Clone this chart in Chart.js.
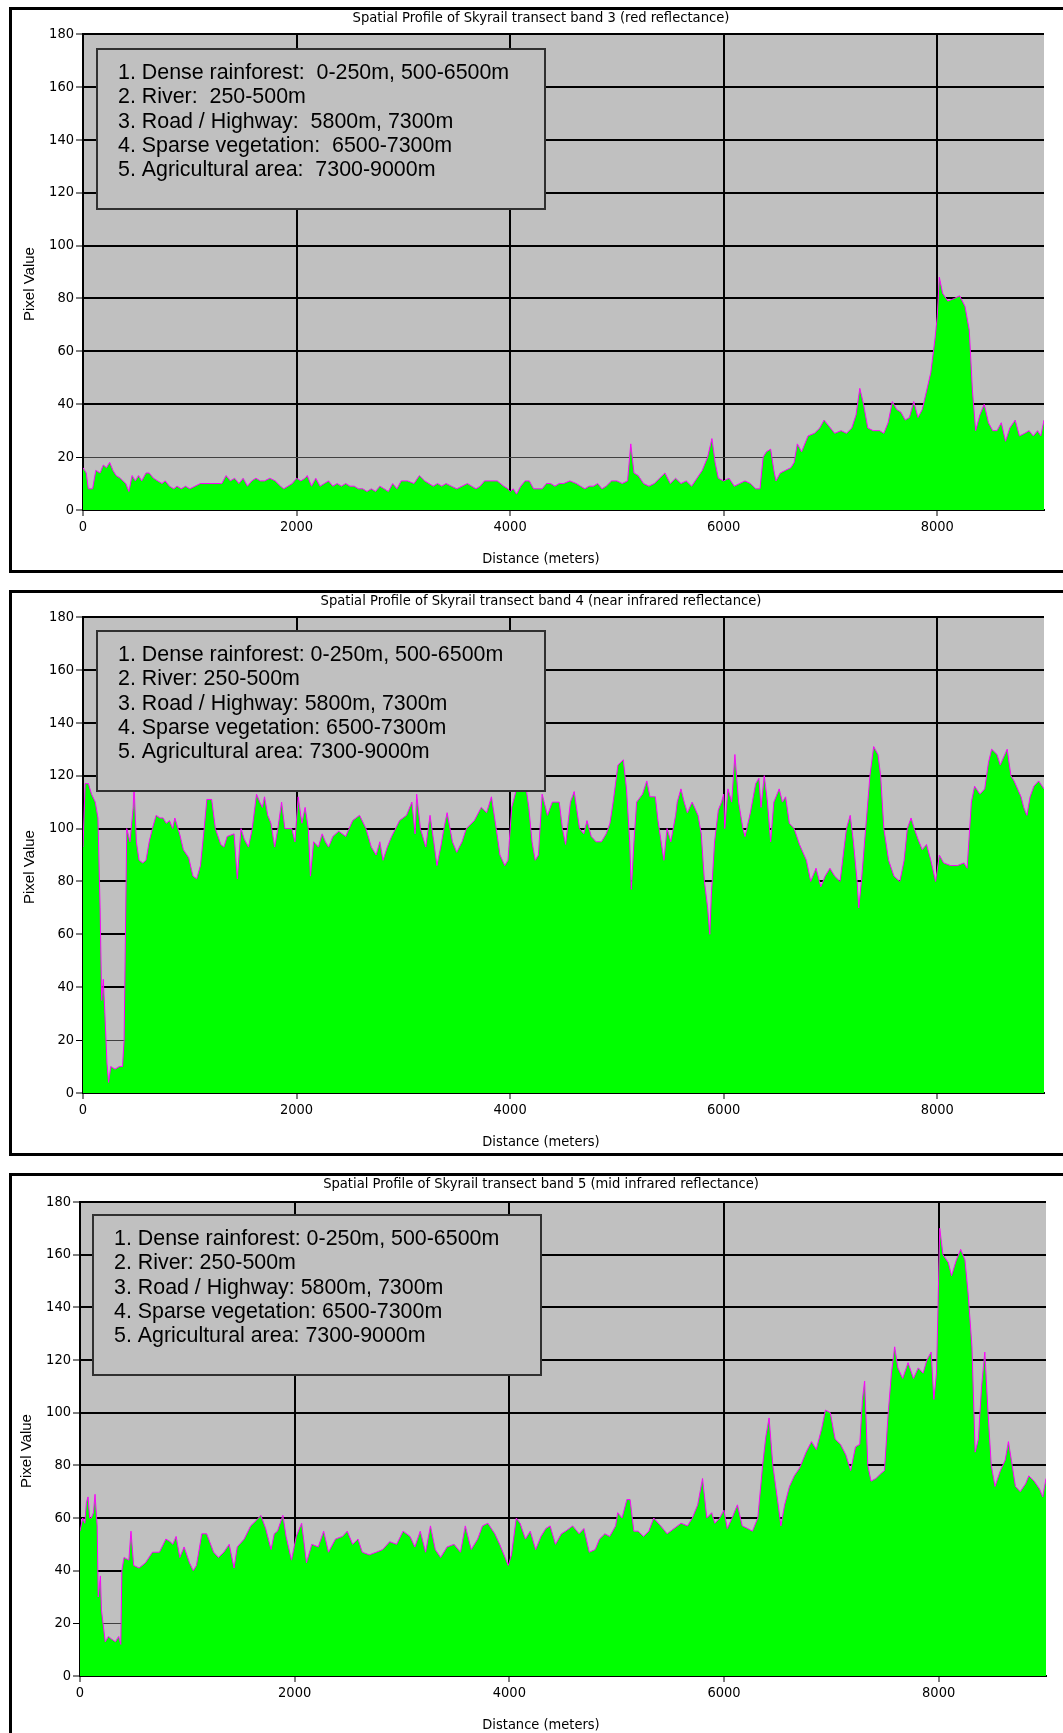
<!DOCTYPE html>
<html>
<head>
<meta charset="utf-8">
<title>Spatial Profile of Skyrail transect</title>
<script src="https://cdn.jsdelivr.net/npm/chart.js@4.4.1/dist/chart.umd.min.js"></script>
<style>
    html, body { margin: 0; padding: 0; background: #fff; overflow: hidden; width: 1063px; height: 1733px; }
    .panel { position: absolute; left: 9px; width: 1064px; height: 566px; border: 3px solid #000; box-sizing: border-box; background: #fff; }
    .panel canvas { display: block; }
</style>
</head>
<body>
<div class="panel" style="top:7px"><canvas id="band3Chart" width="1058" height="560"></canvas></div>
<div class="panel" style="top:590px"><canvas id="band4Chart" width="1058" height="560"></canvas></div>
<div class="panel" style="top:1173px"><canvas id="band5Chart" width="1058" height="560"></canvas></div>
<script>
// Profile data: [distance (m), pixel value]
const band3 = [
    [0,16],[30,14],[50,8],[90,8],[120,15],[160,14],[190,17],[220,16],[250,18],[280,15],
    [310,13],[350,12],[400,10],[430,7],[460,13],[490,11],[520,13],[550,11],[590,14],[620,14],
    [660,12],[700,11],[740,10],[770,11],[810,9],[850,8],[880,9],[920,8],[960,9],[1000,8],
    [1050,9],[1100,10],[1200,10],[1300,10],[1340,13],[1380,11],[1420,12],[1460,10],[1500,12],[1540,9],
    [1580,11],[1620,12],[1660,11],[1700,11],[1750,12],[1800,11],[1850,9],[1880,8],[1920,9],[1960,10],
    [2000,12],[2040,11],[2080,12],[2100,13],[2140,9],[2180,12],[2220,9],[2260,10],[2300,11],[2340,9],
    [2380,10],[2420,9],[2460,10],[2500,9],[2540,9],[2580,8],[2620,8],[2660,7],[2700,8],[2740,7],
    [2780,9],[2820,8],[2860,7],[2900,10],[2940,8],[2980,11],[3040,11],[3100,10],[3150,13],[3200,11],
    [3240,10],[3280,9],[3320,10],[3360,9],[3400,10],[3450,9],[3500,8],[3550,9],[3600,10],[3640,9],
    [3680,8],[3720,9],[3760,11],[3820,11],[3880,11],[3940,9],[3980,8],[4000,7],[4030,8],[4060,6],
    [4100,9],[4140,11],[4180,11],[4220,8],[4260,8],[4300,8],[4340,10],[4380,10],[4420,9],[4460,10],
    [4500,10],[4560,11],[4620,10],[4660,9],[4700,8],[4740,9],[4780,9],[4820,10],[4860,8],[4900,9],
    [4950,11],[5000,11],[5050,10],[5100,11],[5130,25],[5160,14],[5200,13],[5250,10],[5300,9],[5350,10],
    [5400,12],[5450,14],[5500,10],[5550,12],[5600,10],[5650,11],[5700,9],[5750,12],[5800,15],[5850,20],
    [5890,27],[5920,18],[5950,12],[6000,11],[6050,12],[6100,9],[6150,10],[6200,11],[6250,10],[6300,8],
    [6340,8],[6370,20],[6400,22],[6440,23],[6470,15],[6490,11],[6530,14],[6580,15],[6630,16],[6660,18],
    [6690,25],[6730,22],[6790,28],[6850,29],[6900,31],[6940,34],[6980,32],[7040,29],[7100,30],[7150,29],
    [7200,31],[7240,36],[7275,46],[7310,40],[7350,31],[7400,30],[7460,30],[7500,29],[7540,33],[7580,41],
    [7620,38],[7660,37],[7700,34],[7740,35],[7780,41],[7820,35],[7860,38],[7900,45],[7940,52],[7980,65],
    [8000,73],[8020,88],[8050,82],[8100,79],[8160,80],[8210,81],[8260,77],[8300,68],[8330,45],[8360,30],
    [8400,36],[8440,40],[8480,33],[8520,30],[8560,30],[8600,33],[8640,26],[8680,31],[8730,34],[8770,28],
    [8820,29],[8860,30],[8900,28],[8940,30],[8970,28],[9000,34]
];

const band4 = [
    [0,93],[20,117],[50,117],[80,113],[115,110],[140,104],[160,70],[175,35],[190,43],[205,30],
    [225,11],[240,4],[260,10],[300,9],[340,10],[370,10],[385,20],[410,100],[440,95],[470,108],
    [478,116],[500,95],[525,88],[560,87],[590,88],[620,95],[650,100],[685,105],[720,104],[750,104],
    [780,102],[810,103],[840,100],[860,104],[905,98],[940,92],[990,89],[1030,82],[1065,81],[1100,86],
    [1130,98],[1160,111],[1205,111],[1240,100],[1290,94],[1320,93],[1350,97],[1415,98],[1445,81],[1480,100],
    [1510,96],[1550,93],[1585,100],[1625,113],[1655,110],[1680,108],[1700,112],[1730,105],[1760,102],[1795,93],
    [1825,100],[1860,110],[1890,100],[1955,100],[1985,95],[2015,112],[2050,102],[2080,108],[2110,100],[2130,82],
    [2160,95],[2205,93],[2240,98],[2270,95],[2300,93],[2340,97],[2395,99],[2460,97],[2525,103],[2590,105],
    [2650,100],[2700,93],[2745,90],[2780,95],[2810,88],[2850,93],[2890,97],[2965,103],[3030,105],[3080,110],
    [3110,98],[3125,113],[3160,100],[3210,93],[3250,105],[3285,95],[3315,86],[3350,93],[3380,100],[3410,106],
    [3460,95],[3500,91],[3550,95],[3590,100],[3665,103],[3730,108],[3780,106],[3825,112],[3870,100],[3905,90],
    [3950,86],[3980,88],[4015,108],[4080,118],[4140,118],[4175,108],[4205,95],[4235,88],[4265,90],[4300,113],
    [4350,105],[4395,110],[4460,110],[4490,100],[4520,94],[4565,110],[4600,114],[4650,100],[4690,98],[4720,103],
    [4760,97],[4805,95],[4855,95],[4900,98],[4935,102],[4965,110],[5010,124],[5060,126],[5090,115],[5120,95],
    [5135,77],[5160,95],[5185,110],[5240,113],[5280,118],[5310,112],[5360,112],[5385,103],[5440,88],[5470,100],
    [5505,95],[5550,105],[5565,110],[5600,115],[5630,110],[5660,106],[5705,110],[5760,105],[5790,98],[5820,80],
    [5850,70],[5870,60],[5885,75],[5915,95],[5950,107],[5980,110],[6000,113],[6010,100],[6040,115],[6075,110],
    [6105,128],[6140,110],[6180,100],[6200,97],[6250,106],[6300,117],[6330,119],[6350,108],[6380,120],[6410,110],
    [6440,95],[6470,110],[6520,115],[6550,110],[6580,112],[6615,102],[6660,100],[6710,94],[6775,88],[6815,80],
    [6865,85],[6910,78],[6950,82],[6995,85],[7040,82],[7090,80],[7120,90],[7150,100],[7185,105],[7215,95],
    [7250,80],[7265,70],[7290,80],[7330,100],[7370,120],[7405,131],[7445,128],[7470,120],[7500,100],[7545,88],
    [7595,82],[7650,80],[7690,88],[7720,100],[7755,104],[7785,100],[7820,96],[7860,92],[7900,94],[7940,88],
    [7985,80],[8020,90],[8060,87],[8125,86],[8190,86],[8250,87],[8280,85],[8320,110],[8350,116],[8400,113],
    [8445,115],[8480,125],[8510,130],[8560,128],[8590,124],[8655,130],[8690,120],[8720,118],[8785,112],[8810,108],
    [8840,105],[8870,112],[8905,116],[8950,118],[9000,115]
];

const band5 = [
    [0,55],[25,60],[45,58],[60,66],[75,68],[90,60],[105,60],[125,62],[140,69],[160,57],
    [170,30],[190,38],[200,25],[235,13],[265,15],[295,14],[330,13],[360,15],[380,12],[390,40],
    [410,45],[455,44],[475,55],[500,42],[550,41],[610,43],[675,47],[740,47],[800,52],[840,51],
    [865,50],[895,53],[930,45],[970,49],[1020,43],[1055,40],[1085,42],[1135,54],[1180,54],[1245,47],
    [1290,45],[1340,47],[1390,50],[1435,41],[1465,49],[1530,52],[1590,57],[1640,59],[1685,61],[1730,56],
    [1780,48],[1810,54],[1840,55],[1890,61],[1920,53],[1970,44],[2015,53],[2065,58],[2110,43],[2160,50],
    [2220,49],[2270,55],[2315,47],[2380,52],[2445,53],[2490,55],[2540,50],[2590,52],[2630,47],[2695,46],
    [2760,47],[2820,48],[2885,51],[2950,50],[3010,55],[3075,53],[3120,49],[3170,55],[3220,47],[3265,57],
    [3310,48],[3360,45],[3420,49],[3485,50],[3545,47],[3590,57],[3645,48],[3705,52],[3750,57],[3800,58],
    [3865,54],[3910,50],[3960,45],[3990,42],[4020,46],[4065,60],[4100,58],[4150,52],[4195,55],[4245,48],
    [4295,53],[4340,56],[4380,57],[4430,50],[4485,54],[4525,55],[4590,57],[4650,54],[4695,56],[4745,47],
    [4800,48],[4840,52],[4890,54],[4935,53],[4990,57],[5010,62],[5050,60],[5095,67],[5125,67],[5160,55],
    [5200,55],[5250,53],[5300,55],[5345,60],[5410,57],[5470,54],[5535,56],[5600,58],[5660,57],[5705,60],
    [5755,65],[5800,75],[5840,60],[5885,62],[5915,58],[5960,60],[6000,63],[6030,56],[6075,60],[6125,65],
    [6170,57],[6220,56],[6265,55],[6315,60],[6360,80],[6390,91],[6420,98],[6455,80],[6505,65],[6530,57],
    [6565,65],[6610,72],[6655,76],[6705,79],[6765,85],[6815,89],[6860,86],[6910,94],[6945,101],[6990,100],
    [7035,90],[7085,88],[7135,84],[7180,78],[7225,87],[7265,88],[7290,105],[7310,112],[7340,80],[7370,74],
    [7415,75],[7465,77],[7495,78],[7530,100],[7560,115],[7590,125],[7620,117],[7665,113],[7715,119],[7765,113],
    [7810,117],[7855,115],[7890,120],[7930,123],[7955,105],[7980,115],[8010,170],[8040,160],[8090,157],[8120,152],
    [8165,158],[8205,162],[8245,158],[8275,145],[8310,125],[8340,85],[8370,90],[8400,110],[8430,123],[8460,100],
    [8490,80],[8525,72],[8575,78],[8620,82],[8650,89],[8685,80],[8715,72],[8760,70],[8810,73],[8840,76],
    [8890,74],[8940,71],[8970,68],[9000,75]
];

// Axis ranges / ticks
const xMax = 9000;
const xTickValues = [0, 2000, 4000, 6000, 8000];
const yMax = 180;
const yTickStep = 20;

// Land cover notes shown in the box on each plot
const notesBand3 = [
    '1. Dense rainforest:  0-250m, 500-6500m',
    '2. River:  250-500m',
    '3. Road / Highway:  5800m, 7300m',
    '4. Sparse vegetation:  6500-7300m',
    '5. Agricultural area:  7300-9000m'
];
const notesBand45 = [
    '1. Dense rainforest: 0-250m, 500-6500m',
    '2. River: 250-500m',
    '3. Road / Highway: 5800m, 7300m',
    '4. Sparse vegetation: 6500-7300m',
    '5. Agricultural area: 7300-9000m'
];

const narrowFont = "'Liberation Sans Narrow', 'Arial Narrow', 'DejaVu Sans Condensed', sans-serif";
const plainFont = "'Liberation Sans', Arial, sans-serif";

Chart.defaults.color = '#000';
Chart.defaults.font.family = narrowFont;

// Plot background, title, notes box and axis titles
const profileDecor = {
    id: 'profileDecor',
    beforeDraw(chart) {
        const { ctx, chartArea: a } = chart;
        ctx.save();
        ctx.fillStyle = '#c0c0c0';
        ctx.fillRect(a.left, a.top, a.right - a.left, a.bottom - a.top);
        ctx.restore();
    },
    afterDraw(chart, args, opts) {
        const { ctx, chartArea: a } = chart;
        ctx.save();
        ctx.fillStyle = '#000';
        ctx.textBaseline = 'middle';

        // chart title, centred on the panel
        ctx.font = '14.6px ' + narrowFont;
        ctx.textAlign = 'center';
        ctx.fillText(opts.title, chart.width / 2, 8.5);

        // x axis title, centred on the panel
        ctx.font = '14.5px ' + narrowFont;
        ctx.fillText('Distance (meters)', chart.width / 2, 549);

        // notes box
        const bx = a.left + opts.boxDx, by = a.top + opts.boxDy;
        ctx.fillStyle = '#c0c0c0';
        ctx.fillRect(bx, by, 448, 160);
        ctx.strokeStyle = '#303030';
        ctx.lineWidth = 2;
        ctx.strokeRect(bx, by, 448, 160);
        ctx.fillStyle = '#000';
        ctx.font = '21.4px ' + plainFont;
        ctx.textAlign = 'left';
        opts.notes.forEach((line, i) => {
            ctx.fillText(line, bx + 21, by + 24 + i * 24.4);
        });

        // y axis title
        ctx.translate(a.left - 53, (a.top + a.bottom) / 2 + 12);
        ctx.rotate(-Math.PI / 2);
        ctx.font = '15px ' + plainFont;
        ctx.textAlign = 'center';
        ctx.fillText('Pixel Value', 0, 0);
        ctx.restore();
    }
};

function makeProfile(canvasId, titleText, series, notes, area, boxOffset) {
    const canvas = document.getElementById(canvasId);
    const H = canvas.height, W = canvas.width;
    return new Chart(canvas.getContext('2d'), {
        type: 'line',
        data: {
            datasets: [{
                data: series,
                borderColor: '#ff00ff',
                borderWidth: 1,
                backgroundColor: '#00ff00',
                fill: 'origin',
                pointRadius: 0,
                tension: 0
            }]
        },
        options: {
            responsive: false,
            animation: false,
            events: [],
            layout: { padding: { top: area.top, right: W - area.right, bottom: 0, left: 0 } },
            plugins: {
                legend: { display: false },
                tooltip: { enabled: false },
                title: { display: false },
                profileDecor: { title: titleText, notes: notes, boxDx: boxOffset.dx, boxDy: boxOffset.dy }
            },
            scales: {
                x: {
                    type: 'linear',
                    min: 0,
                    max: xMax,
                    afterFit: s => { s.height = H - area.bottom; },
                    afterBuildTicks: s => { s.ticks = xTickValues.map(v => ({ value: v })); },
                    ticks: {
                        maxRotation: 0,
                        autoSkip: false,
                        padding: 3,
                        font: { size: 14.5 },
                        callback: v => String(v)
                    },
                    grid: { color: '#000', lineWidth: 2, tickLength: 6, tickColor: '#000', tickWidth: 1 },
                    border: { color: '#000', width: 2 }
                },
                y: {
                    min: 0,
                    max: yMax,
                    afterFit: s => { s.width = area.left; },
                    ticks: { stepSize: yTickStep, padding: 2, font: { size: 14.5 } },
                    grid: {
                        color: c => (c.tick && c.tick.value === 20) ? '#404040' : '#000',
                        lineWidth: c => (c.tick && c.tick.value === 20) ? 1 : 2,
                        tickLength: 7,
                        tickColor: '#000',
                        tickWidth: 1
                    },
                    border: { color: '#000', width: 2 }
                }
            }
        },
        plugins: [profileDecor]
    });
}

makeProfile('band3Chart', 'Spatial Profile of Skyrail transect band 3 (red reflectance)', band3, notesBand3,
    { left: 71, right: 1032, top: 24, bottom: 500 }, { dx: 14, dy: 15 });
makeProfile('band4Chart', 'Spatial Profile of Skyrail transect band 4 (near infrared reflectance)', band4, notesBand45,
    { left: 71, right: 1032, top: 24, bottom: 500 }, { dx: 14, dy: 14 });
makeProfile('band5Chart', 'Spatial Profile of Skyrail transect band 5 (mid infrared reflectance)', band5, notesBand45,
    { left: 68, right: 1034, top: 26, bottom: 500 }, { dx: 13, dy: 13 });
</script>
</body>
</html>
